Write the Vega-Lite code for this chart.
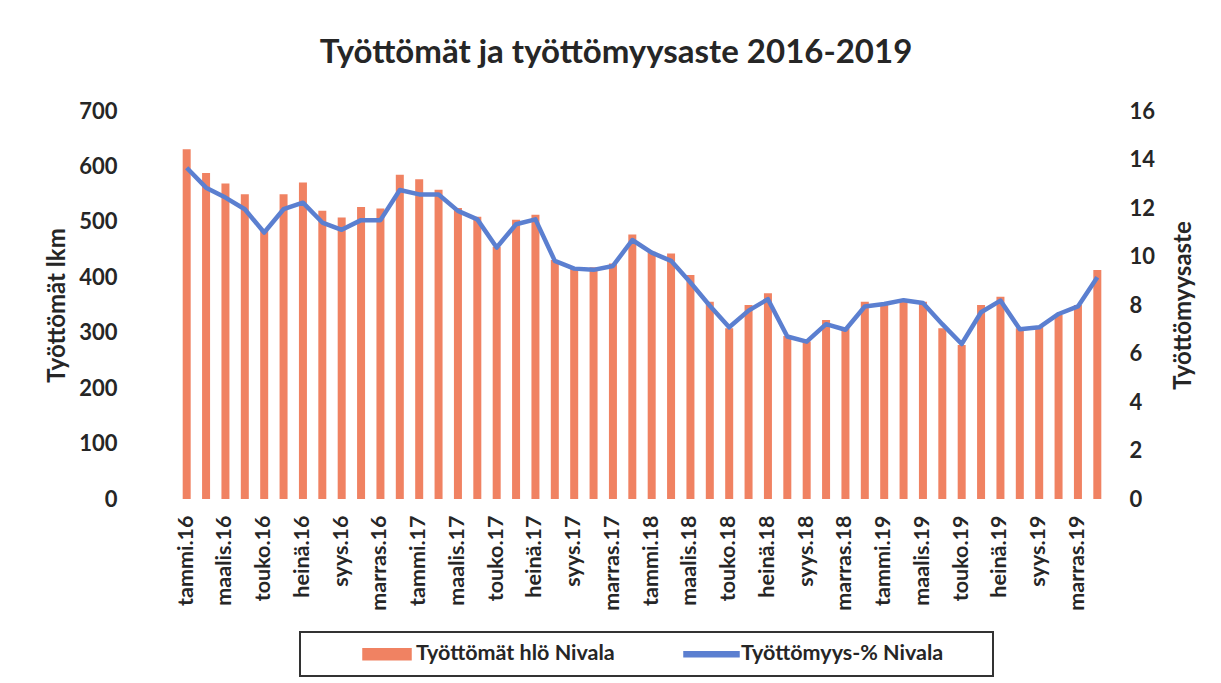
{
  "$schema": "https://vega.github.io/schema/vega-lite/v6.json",
  "width": 930,
  "height": 388,
  "autosize": {"type": "none"},
  "padding": {"left": 177, "top": 111, "right": 114, "bottom": 184},
  "background": "white",
  "title": {
    "text": "Työttömät ja työttömyysaste 2016-2019",
    "font": "Lato",
    "fontSize": 33,
    "fontWeight": "bold",
    "color": "#262626",
    "anchor": "middle",
    "dx": -26,
    "offset": -3,
    "baseline": "bottom"
  },
  "data": {
    "values": [
      {"kk": "tammi.16", "lkm": 631, "pros": 13.66},
      {"kk": "helmi.16", "lkm": 588, "pros": 12.84},
      {"kk": "maalis.16", "lkm": 569, "pros": 12.43},
      {"kk": "huhti.16", "lkm": 550, "pros": 11.95},
      {"kk": "touko.16", "lkm": 485, "pros": 10.99},
      {"kk": "kesä.16", "lkm": 550, "pros": 11.95},
      {"kk": "heinä.16", "lkm": 571, "pros": 12.22},
      {"kk": "elo.16", "lkm": 520, "pros": 11.4},
      {"kk": "syys.16", "lkm": 508, "pros": 11.1},
      {"kk": "loka.16", "lkm": 527, "pros": 11.5},
      {"kk": "marras.16", "lkm": 524, "pros": 11.5},
      {"kk": "joulu.16", "lkm": 585, "pros": 12.74},
      {"kk": "tammi.17", "lkm": 577, "pros": 12.56},
      {"kk": "helmi.17", "lkm": 558, "pros": 12.56},
      {"kk": "maalis.17", "lkm": 525, "pros": 11.88},
      {"kk": "huhti.17", "lkm": 509, "pros": 11.53},
      {"kk": "touko.17", "lkm": 455, "pros": 10.37},
      {"kk": "kesä.17", "lkm": 504, "pros": 11.33},
      {"kk": "heinä.17", "lkm": 513, "pros": 11.53},
      {"kk": "elo.17", "lkm": 431, "pros": 9.82},
      {"kk": "syys.17", "lkm": 418, "pros": 9.5},
      {"kk": "loka.17", "lkm": 418, "pros": 9.45},
      {"kk": "marras.17", "lkm": 425, "pros": 9.61},
      {"kk": "joulu.17", "lkm": 477, "pros": 10.68},
      {"kk": "tammi.18", "lkm": 446, "pros": 10.16},
      {"kk": "helmi.18", "lkm": 443, "pros": 9.82},
      {"kk": "maalis.18", "lkm": 404, "pros": 8.93},
      {"kk": "huhti.18", "lkm": 356, "pros": 7.97},
      {"kk": "touko.18", "lkm": 308, "pros": 7.08},
      {"kk": "kesä.18", "lkm": 350, "pros": 7.77},
      {"kk": "heinä.18", "lkm": 371, "pros": 8.24},
      {"kk": "elo.18", "lkm": 294, "pros": 6.7},
      {"kk": "syys.18", "lkm": 284, "pros": 6.49},
      {"kk": "loka.18", "lkm": 323, "pros": 7.21},
      {"kk": "marras.18", "lkm": 308, "pros": 6.98},
      {"kk": "joulu.18", "lkm": 356, "pros": 7.94},
      {"kk": "tammi.19", "lkm": 353, "pros": 8.04},
      {"kk": "helmi.19", "lkm": 356, "pros": 8.2},
      {"kk": "maalis.19", "lkm": 356, "pros": 8.08},
      {"kk": "huhti.19", "lkm": 308, "pros": 7.21},
      {"kk": "touko.19", "lkm": 278, "pros": 6.39},
      {"kk": "kesä.19", "lkm": 350, "pros": 7.7},
      {"kk": "heinä.19", "lkm": 365, "pros": 8.18},
      {"kk": "elo.19", "lkm": 308, "pros": 7.0},
      {"kk": "syys.19", "lkm": 311, "pros": 7.08},
      {"kk": "loka.19", "lkm": 332, "pros": 7.63},
      {"kk": "marras.19", "lkm": 350, "pros": 7.94},
      {"kk": "joulu.19", "lkm": 413, "pros": 9.14}
    ]
  },
  "encoding": {
    "x": {
      "field": "kk",
      "type": "ordinal",
      "sort": null,
      "scale": {"paddingInner": 0, "paddingOuter": 0},
      "axis": {
        "title": null,
        "values": ["tammi.16", "maalis.16", "touko.16", "heinä.16", "syys.16", "marras.16", "tammi.17", "maalis.17", "touko.17", "heinä.17", "syys.17", "marras.17", "tammi.18", "maalis.18", "touko.18", "heinä.18", "syys.18", "marras.18", "tammi.19", "maalis.19", "touko.19", "heinä.19", "syys.19", "marras.19"],
        "labelAngle": -90,
        "labelAlign": "right",
        "labelBaseline": "middle",
        "labelPadding": 16,
        "ticks": false,
        "domain": false,
        "labelFont": "Lato",
        "labelFontSize": 21.5,
        "labelFontWeight": "bold",
        "labelColor": "#262626"
      }
    }
  },
  "layer": [
    {
      "mark": {"type": "bar", "width": 8},
      "encoding": {
        "y": {
          "field": "lkm",
          "type": "quantitative",
          "scale": {"domain": [0, 700], "nice": false},
          "axis": {
            "title": "Työttömät lkm",
            "values": [0, 100, 200, 300, 400, 500, 600, 700],
            "domain": false,
            "ticks": false,
            "grid": false,
            "labelPadding": 60,
            "titlePadding": 9,
            "labelFont": "Lato",
            "labelFontSize": 22,
            "labelFontWeight": "bold",
            "labelColor": "#262626",
            "titleFont": "Lato",
            "titleFontSize": 24,
            "titleFontWeight": "bold",
            "titleColor": "#262626"
          }
        },
        "color": {
          "datum": "Työttömät hlö Nivala",
          "scale": {
            "domain": ["Työttömät hlö Nivala", "Työttömyys-% Nivala"],
            "range": ["#F08262", "#5B7FD0"]
          },
          "legend": {
            "title": " ",
            "titleOrient": "right",
            "titlePadding": 39,
            "titleFontSize": 10,
            "orient": "none",
            "legendX": 123,
            "legendY": 521,
            "direction": "horizontal",
            "padding": 11,
            "strokeColor": "#333333",
            "labelFont": "Lato",
            "labelFontSize": 21.5,
            "labelFontWeight": "bold",
            "labelColor": "#262626",
            "labelOffset": 83,
            "labelLimit": 400,
            "columnPadding": 21,
            "symbolSize": 400,
            "symbolType": "M4.1,-0.55H8.9V0.55H4.1Z",
            "encode": {
              "legend": {"update": {"strokeWidth": {"value": 2}}},
              "symbols": {
                "update": {
                  "shape": {"signal": "datum.value == 'Työttömyys-% Nivala' ? 'M3.7,-0.26H9.2V0.26H3.7Z' : 'M4.1,-0.55H8.9V0.55H4.1Z'"},
                  "fill": {"scale": "color", "field": "value"},
                  "stroke": {"value": "transparent"},
                  "opacity": {"value": 1}
                }
              }
            }
          }
        }
      }
    },
    {
      "mark": {"type": "line", "strokeWidth": 4.5, "strokeJoin": "round"},
      "encoding": {
        "y": {
          "field": "pros",
          "type": "quantitative",
          "scale": {"domain": [0, 16], "nice": false},
          "axis": {
            "orient": "right",
            "title": "Työttömyysaste",
            "titleAngle": -90,
            "titleBaseline": "top",
            "values": [0, 2, 4, 6, 8, 10, 12, 14, 16],
            "domain": false,
            "ticks": false,
            "grid": false,
            "labelPadding": 22,
            "titlePadding": 17,
            "labelFont": "Lato",
            "labelFontSize": 22,
            "labelFontWeight": "bold",
            "labelColor": "#262626",
            "titleFont": "Lato",
            "titleFontSize": 24,
            "titleFontWeight": "bold",
            "titleColor": "#262626"
          }
        },
        "color": {"datum": "Työttömyys-% Nivala"}
      }
    }
  ],
  "resolve": {"scale": {"y": "independent"}},
  "config": {
    "view": {"stroke": null}
  }
}
